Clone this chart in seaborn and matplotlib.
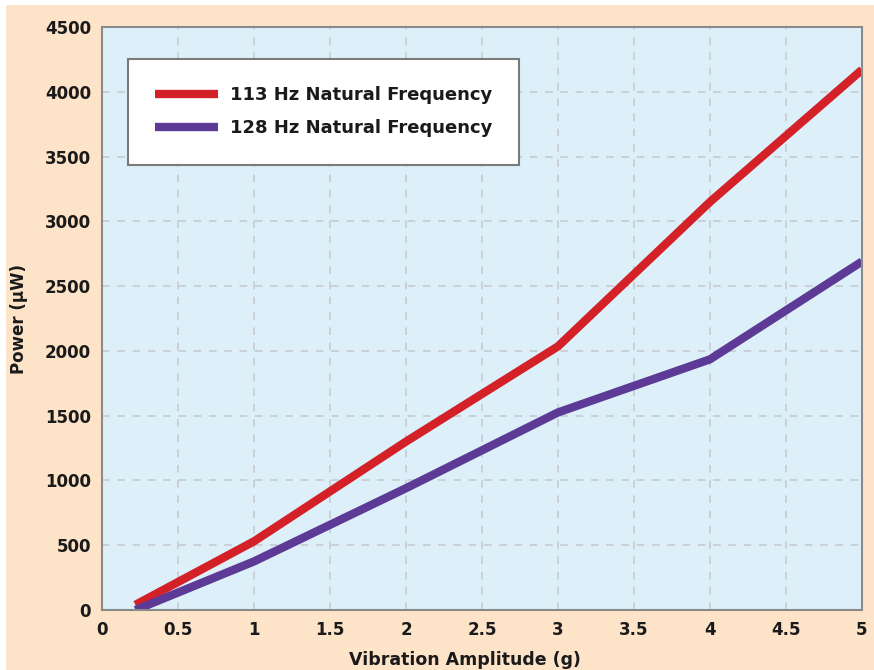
import matplotlib
matplotlib.use("Agg")
import matplotlib.pyplot as plt
import seaborn as sns
import pandas as pd
from matplotlib.patches import Rectangle
from matplotlib.lines import Line2D

# -------------------------
# Data
# -------------------------
amplitude = [0.22, 1.0, 2.0, 3.0, 4.0, 5.0]
power_113 = [40, 530, 1300, 2035, 3150, 4170]
power_128 = [0, 375, 940, 1525, 1935, 2690]
series_names = ["113 Hz Natural Frequency", "128 Hz Natural Frequency"]
x_ticks = [0, 0.5, 1, 1.5, 2, 2.5, 3, 3.5, 4, 4.5, 5]
y_ticks = [0, 500, 1000, 1500, 2000, 2500, 3000, 3500, 4000, 4500]

df = pd.concat([
    pd.DataFrame({"amp": amplitude, "power": power_113, "series": series_names[0]}),
    pd.DataFrame({"amp": amplitude, "power": power_128, "series": series_names[1]}),
])

# -------------------------
# Style
# -------------------------
sns.set_style("ticks")
plt.rcParams["font.family"] = ["DejaVu Sans"]
plt.rcParams["font.weight"] = "bold"

PEACH = "#FDE3C8"
SKY = "#DDF0FA"
INK = "#1A1A1A"
palette = {series_names[0]: "#D42027", series_names[1]: "#5E3A97"}

fig = plt.figure(figsize=(8.74, 6.70), dpi=100, facecolor="white")
fig.patches.append(Rectangle((6 / 874, 0), 1 - 6 / 874, 1 - 5 / 670,
                             transform=fig.transFigure, facecolor=PEACH,
                             edgecolor="none", zorder=-10))
ax = fig.add_axes([102 / 874, 1 - 610 / 670, 760 / 874, 583 / 670])
ax.set_facecolor(SKY)

sns.lineplot(data=df, x="amp", y="power", hue="series", palette=palette,
             linewidth=6, ax=ax, legend=False)
for line in ax.get_lines():
    line.set_solid_capstyle("butt")
    line.set_solid_joinstyle("round")

ax.set_xlim(0, 5)
ax.set_ylim(0, 4500)
ax.set_xticks(x_ticks)
ax.set_xticklabels([f"{t:g}" for t in x_ticks])
ax.set_yticks(y_ticks)
ax.grid(True, linestyle=(0, (5, 5)), color="#C4C8CC", linewidth=1.1)
ax.set_axisbelow(True)
for s in ax.spines.values():
    s.set_color("#8A8A8A")
    s.set_linewidth(1.5)
ax.tick_params(length=0, labelsize=12, pad=8, colors=INK)
for lbl in ax.get_xticklabels() + ax.get_yticklabels():
    lbl.set_fontweight("bold")

ax.set_xlabel("Vibration Amplitude (g)", fontsize=12.5, fontweight="bold",
              color=INK)
ax.xaxis.set_label_coords(0.478, -0.07)
ax.set_ylabel("Power (\u03bcW)", fontsize=12, fontweight="bold",
              color=INK, labelpad=12)

# -------------------------
# Legend box
# -------------------------
handles = [Line2D([], [], color=palette[n], linewidth=6, solid_capstyle="butt")
           for n in series_names]
leg = ax.legend(handles, series_names, loc="upper left",
                bbox_to_anchor=(26 / 760, 1 - 32 / 583), fancybox=False,
                framealpha=1, edgecolor="#7A7A7A", handlelength=3.5,
                borderpad=1.5, labelspacing=0.85, handletextpad=0.65,
                prop={"size": 13, "weight": "bold"}, borderaxespad=0)
leg.get_frame().set_linewidth(1.5)
for t in leg.get_texts():
    t.set_color(INK)

fig.savefig("out.png", dpi=100, facecolor=fig.get_facecolor())
